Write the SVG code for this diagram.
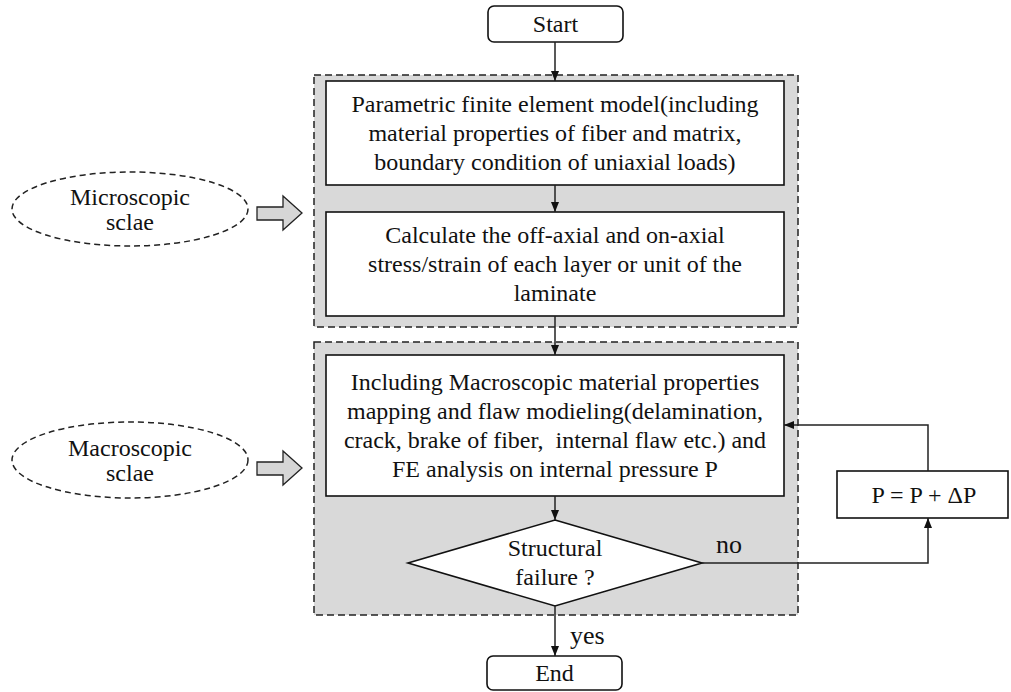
<svg xmlns="http://www.w3.org/2000/svg" width="1011" height="692" viewBox="0 0 1011 692" font-family="'Liberation Serif', 'Times New Roman', Times, 'DejaVu Serif', serif">
<style>
text{font-family:'Liberation Serif','Times New Roman',Times,'DejaVu Serif',serif;font-size:24px;fill:#111;text-anchor:middle}
.lbl{font-size:26px;text-anchor:start}
.box{fill:#fff;stroke:#111;stroke-width:1.6}
.group{fill:#d9d9d9;stroke:#222;stroke-width:1.5;stroke-dasharray:7 4}
.ell{fill:#fff;stroke:#222;stroke-width:1.5;stroke-dasharray:6 4}
.blk{fill:#d6d6d6;stroke:#222;stroke-width:1.3}
.con{fill:none;stroke:#222;stroke-width:1.5;marker-end:url(#ah)}
</style>
<defs>
<marker id="ah" markerUnits="userSpaceOnUse" markerWidth="10" markerHeight="8" refX="10" refY="4" orient="auto">
<path d="M0,0 L10,4 L0,8 z" fill="#111"/>
</marker>
</defs>
<rect width="1011" height="692" fill="#fff"/>
<g id="micro-group"><rect class="group" x="314" y="75" width="484" height="252"/></g>
<g id="macro-group"><rect class="group" x="314" y="342" width="484" height="273"/></g>
<g id="start"><rect class="box" x="488" y="6" width="135" height="36" rx="6"/><text x="555.5" y="32">Start</text></g>
<g id="model"><rect class="box" x="326" y="81" width="458" height="104"/>
<text x="555" y="112">Parametric finite element model(including</text>
<text x="555" y="141">material properties of fiber and matrix,</text>
<text x="555" y="170">boundary condition of uniaxial loads)</text></g>
<g id="calc"><rect class="box" x="326" y="212" width="458" height="104"/>
<text x="555" y="243">Calculate the off-axial and on-axial</text>
<text x="555" y="272">stress/strain of each layer or unit of the</text>
<text x="555" y="301">laminate</text></g>
<g id="macro-model"><rect class="box" x="326" y="355" width="458" height="141"/>
<text x="555" y="390">Including Macroscopic material properties</text>
<text x="555" y="419">mapping and flaw modieling(delamination,</text>
<text x="555" y="448" xml:space="preserve">crack, brake of fiber,  internal flaw etc.) and</text>
<text x="555" y="477">FE analysis on internal pressure P</text></g>
<g id="decision"><polygon class="box" points="555,520 702,563 555,606 408,563"/>
<text x="555" y="556">Structural</text>
<text x="555" y="585">failure ?</text></g>
<g id="end"><rect class="box" x="487" y="656" width="135" height="34" rx="6"/><text x="554.5" y="681">End</text></g>
<g id="increment"><rect class="box" x="837" y="471" width="171" height="47"/><text x="924" y="503">P = P + ΔP</text></g>
<g id="micro-scale"><ellipse class="ell" cx="130" cy="209" rx="118" ry="37"/>
<text x="130" y="205">Microscopic</text><text x="130" y="230">sclae</text>
<polygon class="blk" points="257,207 283,207 283,196 302,213 283,230 283,220 257,220"/></g>
<g id="macro-scale"><ellipse class="ell" cx="130" cy="460" rx="118" ry="38"/>
<text x="130" y="456">Macroscopic</text><text x="130" y="481">sclae</text>
<polygon class="blk" points="257,462 283,462 283,451 302,468 283,485 283,475 257,475"/></g>
<g id="connectors">
<path class="con" d="M555,42 V81"/>
<path class="con" d="M555,185 V212"/>
<path class="con" d="M555,316 V355"/>
<path class="con" d="M555,496 V520"/>
<path class="con" d="M555,606 V656"/>
<path class="con" d="M702,563 H928 V518"/>
<path class="con" d="M928,471 V425 H784"/>
<text class="lbl" x="716" y="553">no</text>
<text class="lbl" x="570" y="644">yes</text>
</g>
</svg>
